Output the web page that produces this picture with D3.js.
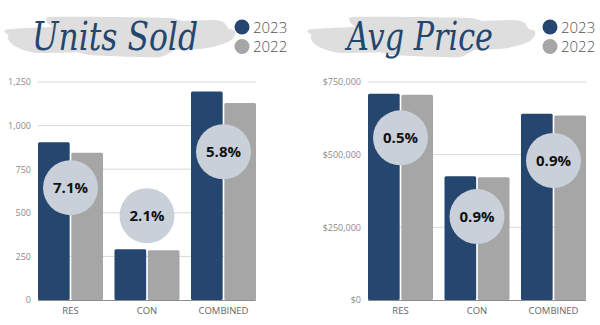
<!DOCTYPE html>
<html><head><meta charset="utf-8">
<script src="https://cdn.jsdelivr.net/npm/d3@7"></script>
<style>
html,body{margin:0;padding:0;background:#fff;}
svg{display:block;font-family:"Open Sans",sans-serif;}
</style></head>
<body><svg id="c" width="600" height="325"></svg>
<script>
const categories = ["RES", "CON", "COMBINED"];
const years = ["2023", "2022"];
const units2023 = [905, 291, 1196];
const units2022 = [845, 285, 1130];
const unitsChange = ["7.1%", "2.1%", "5.8%"];
const unitsBadgeAt = [644, 483, 850];
const unitsTicks = [0, 250, 500, 750, 1000, 1250];
const price2023 = [710000, 426000, 641000];
const price2022 = [706500, 422000, 635000];
const priceChange = ["0.5%", "0.9%", "0.9%"];
const priceBadgeAt = [558000, 287000, 480000];
const priceTicks = [0, 250000, 500000, 750000];

const DARK = "#25466e", GRAY = "#a6a6a6", BADGE = "#c9d0da";
const svg = d3.select("#c");

function brush(g, x0, x1, yTop, yBot) {
  const streaks = [
    [[x0+2, yTop+14], [x1-20, yTop+5], [x1-4, yTop+10], [x1-8, yTop+22], [x0+10, yTop+26], [x0, yTop+20]],
    [[x0+6, yTop+18], [x1-2, yTop+14], [x1, yBot-16], [x1-30, yBot-8], [x0+30, yBot-4], [x0+4, yBot-12]],
    [[x0+40, yTop+2], [x1-60, yTop+3], [x1-40, yTop+12], [x0+50, yTop+14]],
    [[x0+60, yBot-10], [x1-50, yBot-14], [x1-70, yBot], [x0+80, yBot-2]]
  ];
  const line = d3.line().curve(d3.curveCardinalClosed.tension(0.6));
  g.selectAll(null).data(streaks).join("path")
    .attr("d", line).attr("fill", "#dedede");
}

function chart(opts) {
  const g = svg.append("g");
  brush(g, opts.brush[0], opts.brush[1], 15, 57);
  g.append("text").text(opts.title)
    .attr("x", opts.titleX).attr("y", 50)
    .attr("font-family", "'DejaVu Serif', serif")
    .attr("font-style", "italic").attr("font-weight", "normal")
    .attr("font-size", 40).attr("fill", "#23466f")
    .attr("textLength", opts.titleW).attr("lengthAdjust", "spacingAndGlyphs");

  const lg = g.append("g").attr("transform", `translate(${opts.legendX},0)`);
  years.forEach((yr, i) => {
    lg.append("circle").attr("cx", 0).attr("cy", 27 + i*19.5).attr("r", 7.5)
      .attr("fill", i === 0 ? DARK : GRAY);
    lg.append("text").text(yr).attr("x", 11).attr("y", 27 + i*19.5 + 5.5)
      .attr("font-size", 15).attr("fill", "#555").attr("font-weight", 300);
  });

  const y = d3.scaleLinear().domain([0, opts.ticks[opts.ticks.length-1]]).range([300, 82]);
  const x = d3.scaleBand().domain(categories).range([opts.x0, opts.x0 + 218]).paddingInner(0.15).paddingOuter(0);
  const xi = d3.scaleBand().domain(years).range([0, x.bandwidth()]).paddingInner(0.05);

  g.selectAll(null).data(opts.ticks.filter(t => t > 0)).join("line")
    .attr("x1", opts.x0).attr("x2", opts.x0 + 218)
    .attr("y1", d => y(d)).attr("y2", d => y(d))
    .attr("stroke", "#d9d9d9").attr("stroke-width", 1);

  const yAxis = d3.axisLeft(y).tickValues(opts.ticks).tickFormat(opts.fmt).tickSize(0).tickPadding(7);
  const ya = g.append("g").attr("transform", `translate(${opts.x0},0)`).call(yAxis);
  ya.select(".domain").remove();
  ya.selectAll("text").attr("font-size", 9).attr("fill", "#8a8a8a").attr("font-family", "'Open Sans',sans-serif");

  const rows = categories.map((c, i) => ({c, i, v: [opts.a[i], opts.b[i]]}));
  const grp = g.selectAll(null).data(rows).join("g")
    .attr("transform", d => `translate(${x(d.c)},0)`);
  grp.selectAll("rect").data(d => years.map((yr, k) => ({yr, v: d.v[k]}))).join("rect")
    .attr("x", d => xi(d.yr)).attr("width", xi.bandwidth())
    .attr("y", d => y(d.v)).attr("height", d => 300 - y(d.v))
    .attr("rx", 1.5)
    .attr("fill", d => d.yr === "2023" ? DARK : GRAY);

  g.append("line").attr("x1", opts.x0).attr("x2", opts.x0 + 218)
    .attr("y1", 300.5).attr("y2", 300.5).attr("stroke", "#8c8c8c").attr("stroke-width", 1);

  const xAxis = d3.axisBottom(x).tickSize(0).tickPadding(6);
  const xa = g.append("g").attr("transform", "translate(0,301)").call(xAxis);
  xa.select(".domain").remove();
  xa.selectAll("text").attr("font-size", 9.5).attr("fill", "#666").attr("font-family", "'Open Sans',sans-serif");

  const bd = g.selectAll(null).data(rows).join("g")
    .attr("transform", d => `translate(${x(d.c) + x.bandwidth()/2},${y(opts.badge[d.i])})`);
  bd.append("circle").attr("r", 27.5).attr("fill", BADGE);
  bd.append("text").text(d => opts.change[d.i])
    .attr("text-anchor", "middle").attr("dy", 5.5)
    .attr("font-size", 15).attr("font-weight", "bold").attr("fill", "#111")
    .attr("font-family", "'Open Sans',sans-serif");
}

chart({title: "Units Sold", titleX: 32, titleW: 166, brush: [9, 230], legendX: 242,
  x0: 38, ticks: unitsTicks, fmt: d3.format(","), a: units2023, b: units2022,
  change: unitsChange, badge: unitsBadgeAt});
chart({title: "Avg Price", titleX: 347, titleW: 146, brush: [312, 530], legendX: 550,
  x0: 368, ticks: priceTicks, fmt: d => "$" + d3.format(",")(d), a: price2023, b: price2022,
  change: priceChange, badge: priceBadgeAt});
</script></body></html>
